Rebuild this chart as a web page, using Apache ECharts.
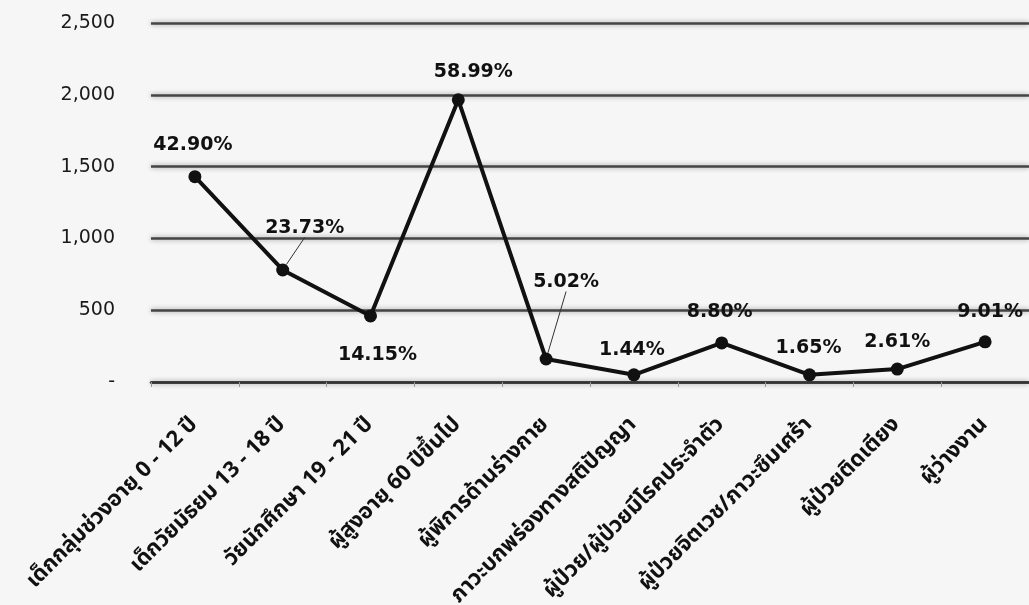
<!DOCTYPE html>
<html><head><meta charset="utf-8">
<script src="https://cdn.jsdelivr.net/npm/echarts@6/dist/echarts.min.js"></script>
<style>html,body{margin:0;padding:0;background:#f6f6f6}#c{width:1029px;height:605px}</style>
</head><body><div id="c"></div>
<script>
var categories = [
  'เด็กกลุ่มช่วงอายุ 0 - 12 ปี',
  'เด็กวัยมัธยม 13 - 18 ปี',
  'วัยนักศึกษา 19 - 21 ปี',
  'ผู้สูงอายุ 60 ปีขึ้นไป',
  'ผู้พิการด้านร่างกาย',
  'ภาวะบกพร่องทางสติปัญญา',
  'ผู้ป่วย/ผู้ป่วยมีโรคประจำตัว',
  'ผู้ป่วยจิตเวช/ภาวะซึมเศร้า',
  'ผู้ป่วยติดเตียง',
  'ผู้ว่างงาน'
];
var values = [1430, 780, 460, 1965, 160, 50, 272, 50, 90, 280];
var percents = ['42.90%', '23.73%', '14.15%', '58.99%', '5.02%', '1.44%', '8.80%', '1.65%', '2.61%', '9.01%'];
var yTicks = [0, 500, 1000, 1500, 2000, 2500];

// label placement (style only)
var labelShift = [[-2,-16],[22,-26],[7,55],[15,-12],[20,-61],[-2,-9],[-2,-15],[-1,-11],[0,-11],[5,-14]];
var withLeader = [1, 4];

var chart = echarts.init(document.getElementById('c'));
var data = values.map(function (v, i) {
  var item = { value: v };
  if (withLeader.indexOf(i) >= 0) item.labelLine = { show: true, lineStyle: { color: '#333', width: 1 } };
  return item;
});
chart.setOption({
  backgroundColor: '#f6f6f6',
  animation: false,
  grid: { left: 151, right: 0, top: 23, bottom: 223, containLabel: false, outerBoundsMode: 'none' },
  xAxis: {
    type: 'category',
    data: categories,
    boundaryGap: true,
    axisLine: { show: true, lineStyle: { color: '#333', width: 2.5 } },
    axisTick: { show: true, length: 5, lineStyle: { color: '#999' } },
    axisLabel: {
      rotate: 45, interval: 0, margin: 40,
      color: '#111', fontSize: 22, fontWeight: 'bold',
      fontFamily: '"Noto Sans Thai", "Noto Sans", "DejaVu Sans", sans-serif'
    }
  },
  yAxis: {
    type: 'value', min: 0, max: 2500, interval: 500,
    axisLine: { show: false }, axisTick: { show: false },
    splitLine: { show: true, lineStyle: { color: '#444', width: 2.5, shadowBlur: 5, shadowColor: 'rgba(0,0,0,0.4)' } },
    axisLabel: {
      margin: 36, color: '#1a1a1a', fontSize: 19,
      fontFamily: '"DejaVu Sans", sans-serif',
      formatter: function (v) { return v === 0 ? '-' : v.toLocaleString('en-US'); }
    }
  },
  series: [{
    type: 'line',
    data: data,
    symbol: 'circle', symbolSize: 13,
    lineStyle: { color: '#111', width: 4 },
    itemStyle: { color: '#111' },
    label: {
      show: true, position: 'top', distance: 0,
      color: '#111', fontSize: 19, fontWeight: 'bold',
      fontFamily: '"DejaVu Sans", sans-serif',
      formatter: function (p) { return percents[p.dataIndex]; }
    },
    labelLayout: function (p) {
      var s = labelShift[p.dataIndex];
      return { dx: s[0], dy: s[1] };
    }
  }]
});
</script></body></html>
